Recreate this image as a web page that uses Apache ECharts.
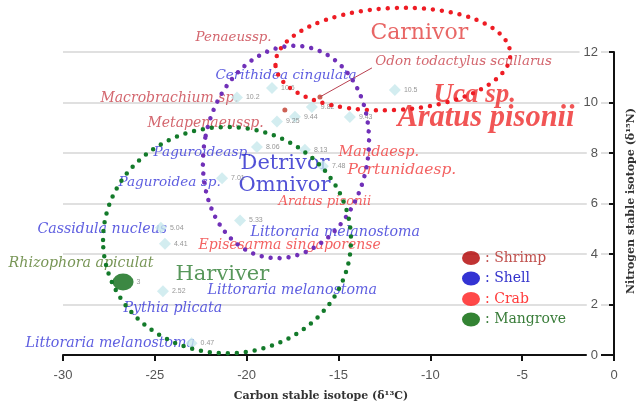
<!DOCTYPE html>
<html><head><meta charset="utf-8">
<script src="https://cdn.jsdelivr.net/npm/echarts@6/dist/echarts.min.js"></script>
<style>html,body{margin:0;padding:0;background:#fff}#c{width:638px;height:405px}</style>
</head><body><div id="c"></div>
<script>
// ---- data ----
const xTicks = [-30, -25, -20, -15, -10, -5, 0];
const yTicks = [0, 2, 4, 6, 8, 10, 12];
const groups = ['Shrimp', 'Shell', 'Crab', 'Mangrove'];
// isotope points (diamonds): delta13C, delta15N, printed label
const isoC = [-23.0, -24.56, -24.45, -24.67, -20.36, -21.34, -19.44, -16.83, -15.85, -20.53, -18.62, -18.35, -17.37, -16.45, -14.38, -11.93];
const isoN = [0.47, 2.52, 4.41, 5.04, 5.33, 7.0, 8.24, 8.13, 7.48, 10.2, 10.57, 9.25, 9.44, 9.82, 9.43, 10.5];
const isoLabels = ['0.47', '2.52', '4.41', '5.04', '5.33', '7.01', '8.06', '8.13', '7.48', '10.2', '10.6', '9.25', '9.44', '9.82', '9.43', '10.5'];
// mangrove
const mangroveC = [-26.73];
const mangroveN = [2.89];
const mangroveLabels = ['3'];
// shrimp pointer ends
const shrimpC = [-17.92, -16.01];
const shrimpN = [9.70, 10.22];
// pointer starts (from label)
const pointerC = [-20.26, -13.18];
const pointerN = [12.20, 11.37];

// ---- annotation texts (data-unit anchors, left/middle) ----
const annTexts = ['Carnivor', 'Penaeussp.', 'Odon todactylus scullarus', 'Cerithidea cingulata', 'Macrobrachium sp.', 'Uca sp.', 'Aratus pisonii', 'Metapenaeussp.', 'Paguroideasp.', 'Detrivor', 'Paguroidea sp.', 'Omnivor', 'Mandaesp.', 'Portunidaesp.', 'Aratus pisonii', 'Cassidula nucleus', 'Littoraria melanostoma', 'Episesarma singaporense', 'Rhizophora apiculat', 'Harviver', 'Littoraria melanostoma', 'Pythia plicata', 'Littoraria melanostoma'];
const annC = [-13.29, -22.81, -13.02, -21.73, -27.99, -9.86, -11.82, -25.43, -25.10, -20.36, -27.01, -20.47, -15.03, -14.54, -18.30, -31.42, -19.82, -22.65, -32.99, -23.90, -22.16, -26.73, -32.07];
const annN = [12.75, 12.59, 11.64, 11.09, 10.18, 10.30, 9.39, 9.19, 8.04, 7.60, 6.85, 6.73, 8.04, 7.33, 6.06, 4.99, 4.87, 4.36, 3.64, 3.17, 2.57, 1.86, 0.48];
const annKind = ['tRed', 'shrimpS', 'shrimpS', 'shellS', 'shrimp', 'crabBig', 'crabHuge', 'shrimp', 'shellS', 'tBlue', 'shellS', 'tBlue', 'crabL', 'crabXL', 'crabS', 'shell', 'shell', 'crab', 'mang', 'tGreen', 'shell', 'shell', 'shell'];

// ---- styles ----
const SERIF = '"DejaVu Serif", serif';
const kinds = {
  tRed: {color: '#e2403e', fontSize: 22, fontFamily: SERIF},
  tBlue: {color: '#2626cc', fontSize: 21, fontFamily: SERIF},
  tGreen: {color: '#2e7d32', fontSize: 21, fontFamily: SERIF},
  shrimp: {color: '#c8404a', fontSize: 14, fontStyle: 'italic', fontFamily: SERIF},
  shrimpS: {color: '#c8404a', fontSize: 13.4, fontStyle: 'italic', fontFamily: SERIF},
  shell: {color: '#3535d8', fontSize: 14.2, fontStyle: 'italic', fontFamily: SERIF},
  shellS: {color: '#3535d8', fontSize: 13.6, fontStyle: 'italic', fontFamily: SERIF},
  crab: {color: '#f03a3a', fontSize: 14, fontStyle: 'italic', fontFamily: SERIF},
  crabL: {color: '#f03a3a', fontSize: 14.5, fontStyle: 'italic', fontFamily: SERIF},
  crabXL: {color: '#f03a3a', fontSize: 15.5, fontStyle: 'italic', fontFamily: SERIF},
  crabS: {color: '#f03a3a', fontSize: 13.2, fontStyle: 'italic', fontFamily: SERIF},
  crabBig: {color: '#ee2a2a', fontSize: 27, fontStyle: 'italic', fontWeight: 'bold', fontFamily: '"Liberation Serif", serif'},
  crabHuge: {color: '#ee2a2a', fontSize: 30.5, fontStyle: 'italic', fontWeight: 'bold', fontFamily: '"Liberation Serif", serif'},
  mang: {color: '#557a2a', fontSize: 14.2, fontStyle: 'italic', fontFamily: SERIF}
};
const ellipses = [
  {c: [-12.04, 11.72], rx: 6.4, ry: 2.02, rot: 0.05, color: '#ee1c24'},
  {c: [-17.86, 8.04], rx: 4.46, ry: 4.24, rot: -0.2, color: '#7030b8'},
  {c: [-21.07, 4.55], rx: 6.75, ry: 4.48, rot: 0, color: '#137a2a'}
];
const legendIcon = 'path://M0,1A1,1 0 1,0 2,1A1,1 0 1,0 0,1Z';
const groupIcon = ['#b00000', '#0000c8', '#ff1a1a', '#006400'];
const groupText = ['#c0504d', '#3333cc', '#ff3b3b', '#3a7d3a'];

const chart = echarts.init(document.getElementById('c'), null, {renderer: 'canvas'});
const pts = isoC.map((x, i) => ({value: [x, isoN[i]], label: {formatter: isoLabels[i]}}));
const ann = annTexts.map((t, i) => ({value: [annC[i], annN[i]], label: Object.assign({show: true, position: 'right', distance: 0, formatter: t}, kinds[annKind[i]])}));

const option = {
  animation: false,
  grid: {left: 63, right: 24, top: 52, bottom: 50},
  xAxis: {
    type: 'value', min: xTicks[0], max: xTicks[xTicks.length - 1], interval: xTicks[1] - xTicks[0],
    axisLine: {show: true, onZero: false, lineStyle: {color: '#111', width: 2}},
    axisTick: {show: true, length: 6, lineStyle: {color: '#111', width: 2}},
    axisLabel: {color: '#555', fontSize: 13, fontFamily: '"Liberation Sans", Arial', margin: 14},
    splitLine: {show: false}
  },
  yAxis: {
    type: 'value', position: 'right', min: yTicks[0], max: yTicks[yTicks.length - 1], interval: yTicks[1] - yTicks[0],
    axisLine: {show: true, lineStyle: {color: '#111', width: 2}},
    axisTick: {show: true, inside: true, length: 5, lineStyle: {color: '#111', width: 2}},
    axisLabel: {inside: true, color: '#555', fontSize: 13, fontFamily: '"Liberation Sans", Arial', margin: 13, backgroundColor: '#fff', padding: [0, 3, 0, 4]},
    splitLine: {show: true, lineStyle: {color: '#d6d6d6', width: 1.5}}
  },
  legend: {
    orient: 'vertical', left: 457, top: 246, itemWidth: 18, itemHeight: 14, itemGap: 6.5, icon: legendIcon, symbolKeepAspect: false,
    formatter: ': {name}', selectedMode: false,
    textStyle: {fontFamily: SERIF, fontSize: 14},
    data: groups.map((g, i) => ({name: g, itemStyle: {color: groupIcon[i]}, textStyle: {color: groupText[i]}}))
  },
  series: [
    {name: 'annotations', type: 'scatter', clip: false, silent: true, symbolSize: 1, itemStyle: {color: 'transparent'}, z: 1, data: ann},
    {name: 'isotope', type: 'scatter', symbol: 'diamond', symbolSize: 12, clip: false, itemStyle: {color: '#c8e8ec'}, z: 2,
      label: {show: true, position: 'right', distance: 3, fontSize: 7, color: '#7a7a7a', fontFamily: '"Liberation Sans", Arial'}, data: pts},
    {name: groups[0], type: 'scatter', symbolSize: 5, itemStyle: {color: '#c0392b'}, z: 3,
      data: shrimpC.map((x, i) => [x, shrimpN[i]]),
      markLine: {silent: true, symbol: ['none', 'none'], label: {show: false}, lineStyle: {color: '#b84050', width: 1, type: 'solid'},
        data: shrimpC.map((x, i) => [{coord: [pointerC[i], pointerN[i]]}, {coord: [x, shrimpN[i]]}])}},
    {name: groups[1], type: 'scatter', data: [], itemStyle: {color: groupIcon[1]}},
    {name: groups[2], type: 'scatter', data: [], itemStyle: {color: groupIcon[2]}},
    {name: groups[3], type: 'scatter', symbol: 'path://M0,1A1,1 0 1,0 2,1A1,1 0 1,0 0,1Z', symbolSize: [21, 17], itemStyle: {color: '#0b6a14'}, z: 3,
      label: {show: true, position: 'right', distance: 3, fontSize: 7, color: '#7a7a7a', formatter: p => mangroveLabels[p.dataIndex]},
      data: mangroveC.map((x, i) => [x, mangroveN[i]])}
  ]
};
chart.setOption(option);

function px(p) { return chart.convertToPixel({gridIndex: 0}, p); }
const graphics = ellipses.map(e => {
  const c = px(e.c);
  const rxp = Math.abs(px([e.c[0] + e.rx, e.c[1]])[0] - c[0]);
  const ryp = Math.abs(px([e.c[0], e.c[1] + e.ry])[1] - c[1]);
  return {type: 'ellipse', x: c[0], y: c[1], rotation: e.rot, z: 100, silent: true,
    shape: {cx: 0, cy: 0, rx: rxp, ry: ryp},
    style: {fill: 'none', stroke: e.color, lineWidth: 4.5, lineDash: [0, 9], lineCap: 'round'}};
});
graphics.push({type: 'text', x: 321, y: 396, z: 100, silent: true,
  style: {text: 'Carbon stable isotope (δ¹³C)', font: 'bold 11px "DejaVu Serif"', fill: '#333', textAlign: 'center', textVerticalAlign: 'middle', align: 'center', verticalAlign: 'middle'}});
graphics.push({type: 'text', x: 631, y: 201, rotation: Math.PI / 2, z: 100, silent: true,
  style: {text: 'Nitrogen stable isotope (δ¹⁵N)', font: 'bold 11px "DejaVu Serif"', fill: '#333', textAlign: 'center', textVerticalAlign: 'middle', align: 'center', verticalAlign: 'middle'}});
chart.setOption({graphic: graphics});
</script></body></html>
